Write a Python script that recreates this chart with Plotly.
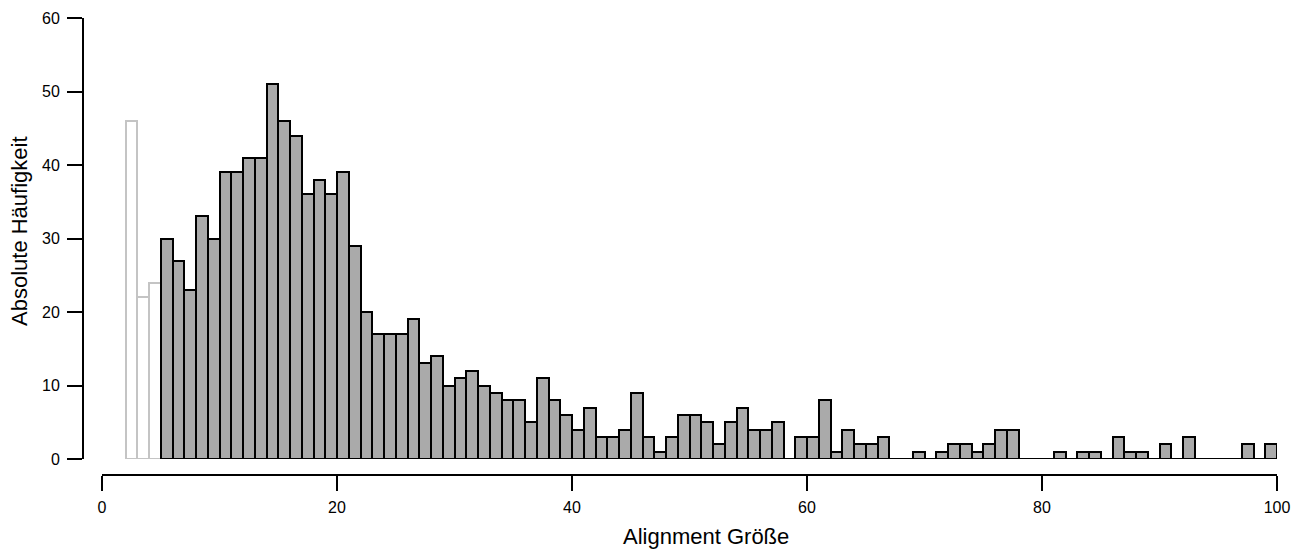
import plotly.graph_objects as go

# Bin left edges (width 1) and counts
excluded_bins = [2, 3, 4]
excluded_counts = [46, 22, 24]

bins = list(range(5, 100))
counts = [30, 27, 23, 33, 30, 39, 39, 41, 41, 51,
          46, 44, 36, 38, 36, 39, 29, 20, 17, 17,
          17, 19, 13, 14, 10, 11, 12, 10, 9, 8,
          8, 5, 11, 8, 6, 4, 7, 3, 3, 4,
          9, 3, 1, 3, 6, 6, 5, 2, 5, 7,
          4, 4, 5, 0, 3, 3, 8, 1, 4, 2,
          2, 3, 0, 0, 1, 0, 1, 2, 2, 1,
          2, 4, 4, 0, 0, 0, 1, 0, 1, 1,
          0, 3, 1, 1, 0, 2, 0, 3, 0, 0,
          0, 0, 2, 0, 2]

x_ticks = [0, 20, 40, 60, 80, 100]
y_ticks = [0, 10, 20, 30, 40, 50, 60]

FONT = "Liberation Sans, Arial, sans-serif"

fig = go.Figure()
fig.add_trace(go.Bar(
    x=[b + 0.5 for b in excluded_bins], y=excluded_counts, width=1,
    marker=dict(color="white", line=dict(color="#c4c4c4", width=2)),
    cliponaxis=False, showlegend=False, hoverinfo="x+y"))
fig.add_trace(go.Bar(
    x=[b + 0.5 for b in bins], y=counts, width=1,
    marker=dict(color="#aaaaaa", line=dict(color="black", width=2)),
    cliponaxis=False, showlegend=False, hoverinfo="x+y"))

L, R, T, B = 30, 27, 18, 40
W = 1304 - L - R
H = 549 - T - B

def px_x(p):
    return (p - L) / W

def px_y(p):
    return (549 - B - p) / H

fig.update_layout(
    width=1304, height=549,
    margin=dict(l=L, r=R, t=T, b=B),
    paper_bgcolor="white", plot_bgcolor="white",
    bargap=0,
    font=dict(family=FONT, size=16, color="black"),
    xaxis=dict(
        range=[0, 100], domain=[px_x(102), 1],
        anchor="free", position=px_y(475),
        tickvals=x_ticks, ticks="outside", ticklen=15, tickwidth=1.5,
        tickcolor="black", showline=True, linecolor="black", linewidth=2,
        showgrid=False, zeroline=False, automargin=False,
        tickfont=dict(size=16, color="black"), ticklabelstandoff=3),
    yaxis=dict(
        range=[0, 60], domain=[px_y(459), 1],
        anchor="free", position=px_x(83),
        tickvals=y_ticks, ticks="outside", ticklen=15, tickwidth=1.5,
        tickcolor="black", showline=True, linecolor="black", linewidth=2,
        showgrid=False, zeroline=False, automargin=False,
        tickfont=dict(size=16, color="black"), ticklabelstandoff=4),
    annotations=[
        dict(text="Alignment Größe", xref="paper", yref="paper",
             x=px_x(706), y=px_y(536), xanchor="center", yanchor="middle",
             showarrow=False, font=dict(size=22, family=FONT)),
        dict(text="Absolute Häufigkeit", xref="paper", yref="paper",
             x=px_x(19), y=px_y(231), xanchor="center", yanchor="middle",
             textangle=-90, showarrow=False, font=dict(size=22, family=FONT)),
    ],
)

fig.write_html("out.html")
